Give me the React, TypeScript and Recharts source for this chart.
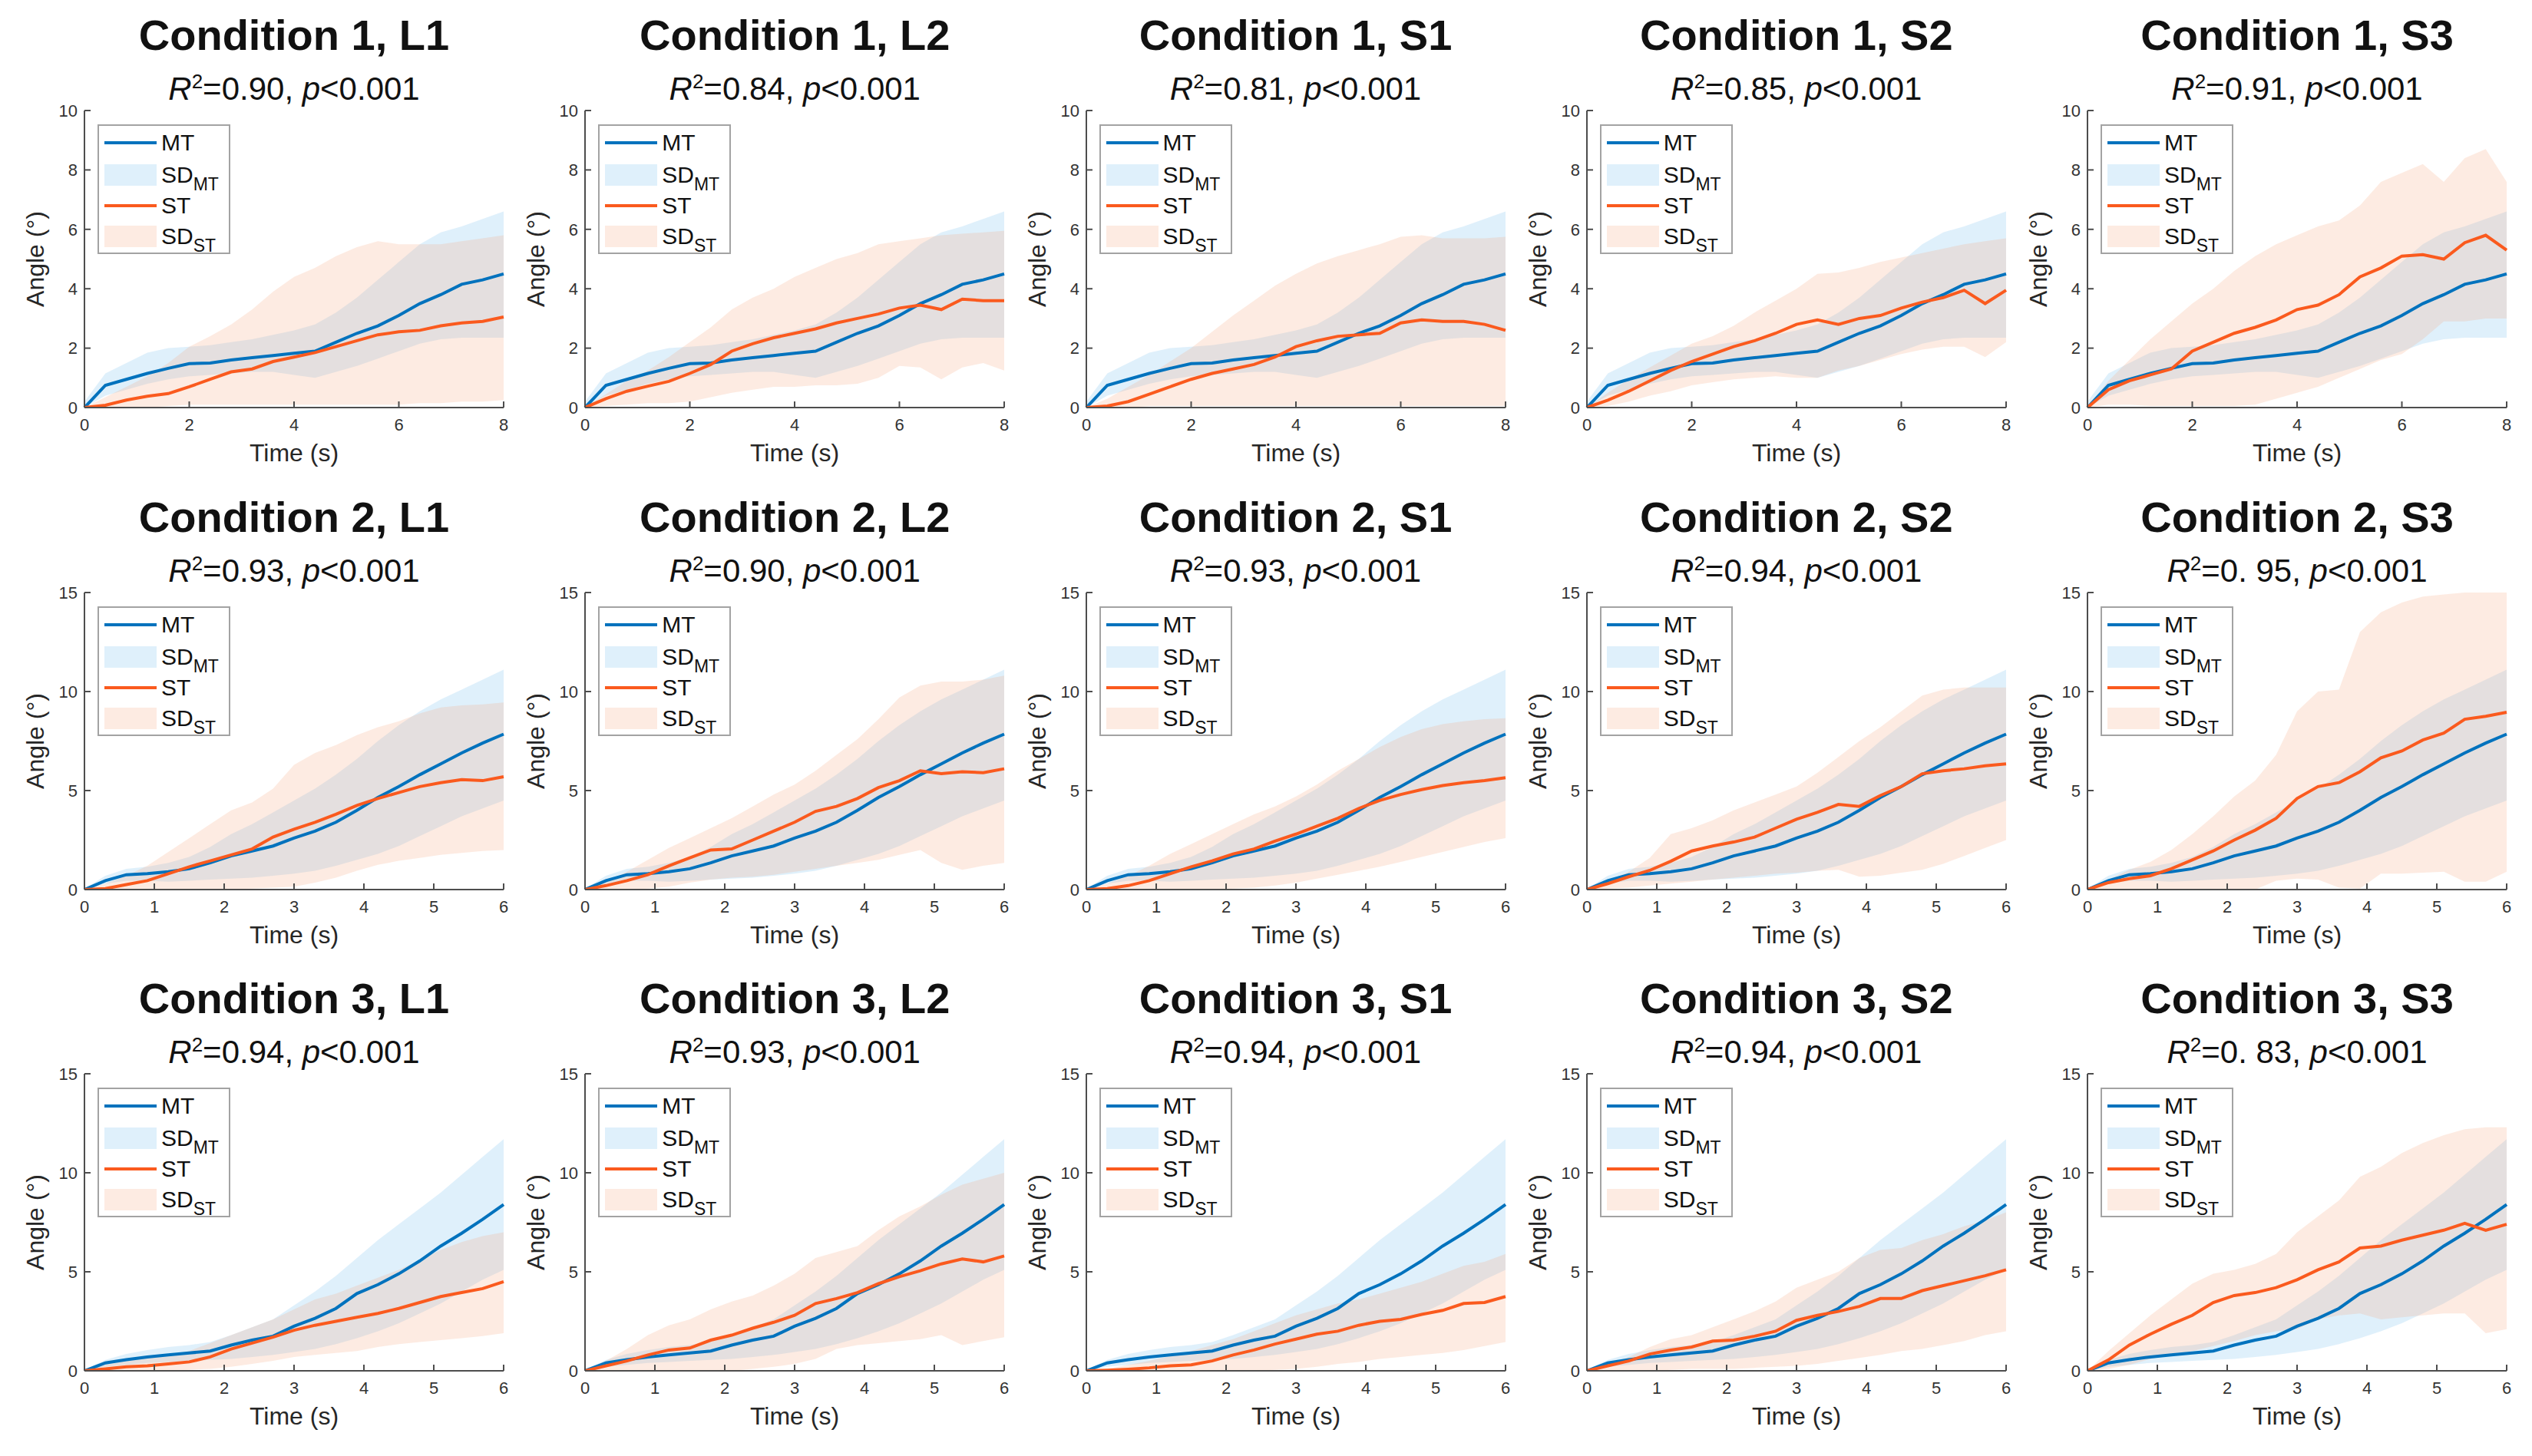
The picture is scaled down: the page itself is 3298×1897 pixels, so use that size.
import React from 'react'
import { ComposedChart, Area, Line, XAxis, YAxis, Label } from 'recharts'

// time grids (s)
const TIME_8 = [0, 0.4, 0.8, 1.2, 1.6, 2, 2.4, 2.8, 3.2, 3.6, 4, 4.4, 4.8, 5.2, 5.6, 6, 6.4, 6.8, 7.2, 7.6, 8]
const TIME_6 = [0, 0.3, 0.6, 0.9, 1.2, 1.5, 1.8, 2.1, 2.4, 2.7, 3, 3.3, 3.6, 3.9, 4.2, 4.5, 4.8, 5.1, 5.4, 5.7, 6]

const CONDITIONS = ['Condition 1', 'Condition 2', 'Condition 3']
const SEGMENTS = ['L1', 'L2', 'S1', 'S2', 'S3']
const R2_LABELS = [
  ['0.90', '0.84', '0.81', '0.85', '0.91'],
  ['0.93', '0.90', '0.93', '0.94', '0. 95'],
  ['0.94', '0.93', '0.94', '0.94', '0. 83'],
]
const X_TICKS_8 = [0, 2, 4, 6, 8]
const X_TICKS_6 = [0, 1, 2, 3, 4, 5, 6]
const Y_TICKS_10 = [0, 2, 4, 6, 8, 10]
const Y_TICKS_15 = [0, 5, 10, 15]

// MT reference (same in every panel of a row)
const MT_1 = [0, 0.75, 0.95, 1.15, 1.32, 1.48, 1.5, 1.6, 1.68, 1.75, 1.83, 1.9, 2.2, 2.5, 2.75, 3.1, 3.5, 3.8, 4.15, 4.3, 4.5]
const MT_1_LO = [0, 0.4, 0.6, 0.8, 0.95, 1.05, 1.1, 1.15, 1.2, 1.2, 1.1, 1.0, 1.2, 1.4, 1.65, 1.9, 2.15, 2.3, 2.35, 2.35, 2.35]
const MT_1_HI = [0.2, 1.15, 1.5, 1.85, 2.0, 2.05, 2.1, 2.2, 2.3, 2.45, 2.6, 2.8, 3.2, 3.7, 4.3, 4.9, 5.5, 5.9, 6.1, 6.35, 6.6]

const MT_2 = [0, 0.45, 0.75, 0.8, 0.9, 1.05, 1.35, 1.7, 1.95, 2.2, 2.6, 2.95, 3.4, 4.0, 4.65, 5.2, 5.8, 6.35, 6.9, 7.4, 7.85]
const MT_2_LO = [0, 0.3, 0.45, 0.45, 0.4, 0.45, 0.5, 0.55, 0.6, 0.7, 0.8, 0.95, 1.2, 1.5, 1.8, 2.2, 2.7, 3.2, 3.7, 4.1, 4.5]
const MT_2_HI = [0.05, 0.7, 1.05, 1.15, 1.35, 1.65, 2.15, 2.8, 3.3, 3.9, 4.5, 5.1, 5.8, 6.6, 7.5, 8.3, 9.0, 9.6, 10.1, 10.6, 11.1]

const MT_3 = [0, 0.4, 0.56, 0.7, 0.8, 0.9, 1.0, 1.3, 1.55, 1.75, 2.25, 2.65, 3.15, 3.9, 4.35, 4.9, 5.55, 6.3, 6.95, 7.65, 8.4]
const MT_3_LO = [0, 0.2, 0.3, 0.4, 0.45, 0.5, 0.55, 0.6, 0.7, 0.8, 0.95, 1.1, 1.35, 1.65, 2.0, 2.4, 2.9, 3.4, 4.0, 4.6, 5.1]
const MT_3_HI = [0.05, 0.55, 0.85, 1.05, 1.2, 1.3, 1.45, 1.8, 2.2, 2.6, 3.3, 4.0, 4.8, 5.7, 6.6, 7.4, 8.2, 9.0, 9.9, 10.8, 11.7]

// ST, condition 1
const ST_1_L1 = [0, 0.08, 0.25, 0.38, 0.47, 0.7, 0.95, 1.2, 1.3, 1.55, 1.7, 1.85, 2.05, 2.25, 2.45, 2.55, 2.6, 2.75, 2.85, 2.9, 3.05]
const ST_1_L1_LO = [0, 0, 0, 0, 0.05, 0.1, 0.1, 0.1, 0.1, 0.1, 0.1, 0.1, 0.1, 0.1, 0.1, 0.1, 0.15, 0.15, 0.2, 0.2, 0.25]
const ST_1_L1_HI = [0, 0.35, 0.7, 1.05, 1.5, 2.05, 2.4, 2.8, 3.3, 3.9, 4.4, 4.7, 5.1, 5.4, 5.6, 5.5, 5.5, 5.5, 5.6, 5.7, 5.8]

const ST_1_L2 = [0, 0.3, 0.55, 0.72, 0.88, 1.15, 1.45, 1.9, 2.15, 2.35, 2.5, 2.65, 2.85, 3.0, 3.15, 3.35, 3.45, 3.3, 3.65, 3.6, 3.6]
const ST_1_L2_LO = [0, 0.05, 0.1, 0.15, 0.15, 0.2, 0.35, 0.5, 0.6, 0.7, 0.7, 0.75, 0.75, 0.8, 1.0, 1.4, 1.35, 0.95, 1.35, 1.5, 1.25]
const ST_1_L2_HI = [0, 0.45, 0.9, 1.25, 1.7, 2.2, 2.7, 3.3, 3.7, 4.0, 4.4, 4.7, 5.0, 5.2, 5.5, 5.6, 5.7, 5.8, 5.85, 5.9, 5.95]

const ST_1_S1 = [0, 0.05, 0.2, 0.45, 0.7, 0.95, 1.15, 1.3, 1.45, 1.7, 2.05, 2.25, 2.4, 2.45, 2.5, 2.85, 2.95, 2.9, 2.9, 2.8, 2.6]
const ST_1_S1_LO = [0, 0, 0, 0.05, 0.05, 0.05, 0.05, 0.05, 0.05, 0.05, 0.05, 0.05, 0.05, 0.05, 0.05, 0.05, 0.05, 0.05, 0.05, 0.05, 0.05]
const ST_1_S1_HI = [0, 0.3, 0.7, 1.1, 1.55, 2.0, 2.55, 3.1, 3.6, 4.1, 4.5, 4.85, 5.1, 5.3, 5.5, 5.75, 5.8, 5.7, 5.7, 5.7, 5.75]

const ST_1_S2 = [0, 0.25, 0.55, 0.9, 1.25, 1.55, 1.8, 2.05, 2.25, 2.5, 2.8, 2.95, 2.8, 3.0, 3.1, 3.35, 3.55, 3.7, 3.95, 3.5, 3.95]
const ST_1_S2_LO = [0, 0.05, 0.2, 0.4, 0.55, 0.75, 0.85, 0.95, 1.0, 1.05, 1.0, 1.0, 1.25, 1.4, 1.6, 1.8, 1.95, 2.05, 2.05, 1.7, 2.2]
const ST_1_S2_HI = [0, 0.5, 0.95, 1.35, 1.75, 2.15, 2.4, 2.75, 3.2, 3.6, 4.0, 4.5, 4.55, 4.7, 4.9, 5.05, 5.2, 5.35, 5.5, 5.6, 5.7]

const ST_1_S3 = [0, 0.6, 0.9, 1.1, 1.3, 1.9, 2.2, 2.5, 2.7, 2.95, 3.3, 3.45, 3.8, 4.4, 4.7, 5.1, 5.15, 5.0, 5.55, 5.8, 5.3]
const ST_1_S3_LO = [0, 0.1, 0.1, 0.05, 0.05, 0.05, 0.05, 0.05, 0.1, 0.3, 0.5, 0.7, 1.0, 1.3, 1.6, 1.8, 2.3, 2.9, 2.9, 3.0, 3.0]
const ST_1_S3_HI = [0, 0.9, 1.6, 2.3, 2.9, 3.5, 4.0, 4.6, 5.1, 5.5, 5.8, 6.1, 6.3, 6.8, 7.6, 7.9, 8.2, 7.6, 8.4, 8.7, 7.6]

// ST, condition 2
const ST_2_L1 = [0, 0.05, 0.25, 0.45, 0.8, 1.15, 1.45, 1.75, 2.05, 2.65, 3.05, 3.4, 3.8, 4.25, 4.6, 4.9, 5.2, 5.4, 5.55, 5.5, 5.7]
const ST_2_L1_LO = [0, 0, 0, 0, 0, 0, 0, 0.02, 0.05, 0.1, 0.15, 0.35, 0.6, 0.95, 1.25, 1.45, 1.6, 1.75, 1.85, 1.95, 2.0]
const ST_2_L1_HI = [0, 0.3, 0.7, 1.2, 1.9, 2.6, 3.3, 4.0, 4.4, 5.1, 6.3, 6.9, 7.3, 7.8, 8.2, 8.5, 8.9, 9.2, 9.3, 9.35, 9.45]

const ST_2_L2 = [0, 0.2, 0.45, 0.75, 1.2, 1.6, 2.0, 2.05, 2.5, 2.95, 3.4, 3.95, 4.2, 4.6, 5.15, 5.5, 6.0, 5.85, 5.95, 5.9, 6.1]
const ST_2_L2_LO = [0, 0, 0, 0.05, 0.15, 0.35, 0.5, 0.6, 0.65, 0.75, 0.9, 1.05, 1.2, 1.35, 1.5, 1.75, 2.0, 1.35, 1.0, 1.2, 1.35]
const ST_2_L2_HI = [0, 0.4, 0.9, 1.5, 2.1, 2.6, 3.1, 3.6, 4.2, 4.8, 5.3, 6.0, 6.8, 7.6, 8.6, 9.7, 10.3, 10.5, 10.5, 10.6, 10.8]

const ST_2_S1 = [0, 0.05, 0.2, 0.45, 0.8, 1.15, 1.45, 1.8, 2.05, 2.45, 2.8, 3.2, 3.6, 4.1, 4.5, 4.8, 5.05, 5.25, 5.4, 5.5, 5.65]
const ST_2_S1_LO = [0, 0, 0, 0, 0, 0, 0, 0.05, 0.1, 0.2, 0.35, 0.55, 0.75, 0.95, 1.15, 1.4, 1.65, 1.9, 2.15, 2.4, 2.6]
const ST_2_S1_HI = [0, 0.3, 0.7, 1.2, 1.8, 2.3, 2.8, 3.3, 3.8, 4.2, 4.7, 5.3, 6.0, 6.6, 7.2, 7.7, 8.1, 8.35, 8.5, 8.6, 8.65]

const ST_2_S2 = [0, 0.3, 0.65, 0.97, 1.43, 1.95, 2.2, 2.4, 2.65, 3.1, 3.55, 3.9, 4.3, 4.2, 4.75, 5.2, 5.85, 6.0, 6.1, 6.25, 6.35]
const ST_2_S2_LO = [0, 0.05, 0.1, 0.2, 0.3, 0.4, 0.5, 0.6, 0.7, 0.8, 0.85, 0.95, 1.0, 0.65, 0.7, 0.85, 1.0, 1.3, 1.7, 2.1, 2.5]
const ST_2_S2_HI = [0, 0.4, 0.9, 1.6, 2.8, 3.1, 3.5, 4.0, 4.4, 4.8, 5.2, 5.9, 6.7, 7.5, 8.2, 9.0, 9.8, 10.1, 10.2, 10.2, 10.2]

const ST_2_S3 = [0, 0.35, 0.55, 0.7, 1.05, 1.5, 1.95, 2.5, 3.0, 3.6, 4.6, 5.2, 5.4, 5.95, 6.65, 7.0, 7.55, 7.9, 8.6, 8.75, 8.95]
const ST_2_S3_LO = [0, 0, 0, 0, 0, 0, 0, 0, 0, 0.45, 0.55, 0.5, 0.1, 0.05, 0.8, 0.8, 0.85, 0.9, 0.4, 0.4, 0.9]
const ST_2_S3_HI = [0, 0.5, 1.0, 1.4, 2.0, 2.8, 3.7, 4.7, 5.5, 6.8, 9.0, 10.0, 10.1, 13.0, 14.0, 14.5, 14.8, 14.9, 15, 15, 15]

// ST, condition 3
const ST_3_L1 = [0, 0.1, 0.2, 0.25, 0.35, 0.45, 0.7, 1.1, 1.4, 1.7, 2.05, 2.3, 2.5, 2.7, 2.9, 3.15, 3.45, 3.75, 3.95, 4.15, 4.5]
const ST_3_L1_LO = [0, 0, 0, 0, 0, 0.05, 0.1, 0.2, 0.35, 0.5, 0.7, 0.8, 0.9, 1.0, 1.2, 1.35, 1.45, 1.55, 1.65, 1.75, 1.9]
const ST_3_L1_HI = [0, 0.3, 0.5, 0.65, 0.8, 1.0, 1.4, 1.8, 2.2, 2.6, 3.1, 3.6, 3.9, 4.3, 4.7, 5.1, 5.6, 6.1, 6.5, 6.8, 7.0]

const ST_3_L2 = [0, 0.25, 0.5, 0.8, 1.05, 1.15, 1.55, 1.8, 2.15, 2.45, 2.8, 3.4, 3.65, 3.95, 4.4, 4.75, 5.05, 5.4, 5.65, 5.5, 5.8]
const ST_3_L2_LO = [0, 0, 0, 0, 0, 0, 0, 0, 0.1, 0.2, 0.35, 0.6, 1.1, 1.3, 1.4, 1.5, 1.6, 1.8, 1.3, 1.5, 1.7]
const ST_3_L2_HI = [0, 0.5, 1.1, 1.8, 2.3, 2.6, 3.1, 3.5, 3.8, 4.3, 4.9, 5.7, 6.0, 6.3, 7.1, 7.8, 8.3, 8.9, 9.4, 9.7, 10.0]

const ST_3_S1 = [0, 0.03, 0.08, 0.15, 0.25, 0.3, 0.5, 0.8, 1.05, 1.35, 1.6, 1.85, 2.0, 2.3, 2.5, 2.6, 2.85, 3.05, 3.4, 3.45, 3.75]
const ST_3_S1_LO = [0, 0, 0, 0, 0, 0, 0, 0, 0, 0.05, 0.1, 0.2, 0.35, 0.45, 0.6, 0.7, 0.8, 0.9, 1.05, 1.25, 1.45]
const ST_3_S1_HI = [0, 0.1, 0.3, 0.5, 0.75, 1.0, 1.3, 1.6, 2.0, 2.4, 2.8, 3.1, 3.4, 3.6, 3.9, 4.2, 4.5, 4.9, 5.3, 5.5, 5.9]

const ST_3_S2 = [0, 0.25, 0.5, 0.85, 1.05, 1.2, 1.5, 1.55, 1.75, 2.0, 2.55, 2.8, 3.0, 3.25, 3.65, 3.65, 4.05, 4.3, 4.55, 4.8, 5.1]
const ST_3_S2_LO = [0, 0, 0, 0, 0.05, 0.1, 0.1, 0.1, 0.15, 0.2, 0.25, 0.35, 0.5, 0.65, 0.8, 1.0, 1.1, 1.3, 1.5, 1.8, 2.0]
const ST_3_S2_HI = [0, 0.35, 0.7, 1.2, 1.6, 1.8, 2.2, 2.6, 3.0, 3.5, 4.2, 4.6, 5.0, 5.7, 6.1, 6.2, 6.6, 6.9, 7.3, 7.6, 8.0]

const ST_3_S3 = [0, 0.55, 1.3, 1.85, 2.35, 2.8, 3.45, 3.8, 3.95, 4.2, 4.6, 5.1, 5.5, 6.2, 6.3, 6.6, 6.85, 7.1, 7.45, 7.1, 7.4]
const ST_3_S3_LO = [0, 0.1, 0.3, 0.6, 0.8, 1.0, 1.25, 1.5, 1.8, 2.0, 2.1, 2.6, 2.8, 2.9, 2.6, 2.7, 2.8, 2.9, 2.9, 1.9, 2.1]
const ST_3_S3_HI = [0, 1.0, 1.9, 2.8, 3.6, 4.4, 4.9, 5.1, 5.4, 5.9, 7.0, 7.8, 8.6, 9.8, 10.3, 11.0, 11.5, 11.9, 12.2, 12.3, 12.3]

const ROW_SETUP = [
  { time: TIME_8, mt: MT_1, mtLo: MT_1_LO, mtHi: MT_1_HI, xMax: 8, xTicks: X_TICKS_8, yMax: 10, yTicks: Y_TICKS_10 },
  { time: TIME_6, mt: MT_2, mtLo: MT_2_LO, mtHi: MT_2_HI, xMax: 6, xTicks: X_TICKS_6, yMax: 15, yTicks: Y_TICKS_15 },
  { time: TIME_6, mt: MT_3, mtLo: MT_3_LO, mtHi: MT_3_HI, xMax: 6, xTicks: X_TICKS_6, yMax: 15, yTicks: Y_TICKS_15 },
]

const ST_SETS = [
  [
    [ST_1_L1, ST_1_L1_LO, ST_1_L1_HI],
    [ST_1_L2, ST_1_L2_LO, ST_1_L2_HI],
    [ST_1_S1, ST_1_S1_LO, ST_1_S1_HI],
    [ST_1_S2, ST_1_S2_LO, ST_1_S2_HI],
    [ST_1_S3, ST_1_S3_LO, ST_1_S3_HI],
  ],
  [
    [ST_2_L1, ST_2_L1_LO, ST_2_L1_HI],
    [ST_2_L2, ST_2_L2_LO, ST_2_L2_HI],
    [ST_2_S1, ST_2_S1_LO, ST_2_S1_HI],
    [ST_2_S2, ST_2_S2_LO, ST_2_S2_HI],
    [ST_2_S3, ST_2_S3_LO, ST_2_S3_HI],
  ],
  [
    [ST_3_L1, ST_3_L1_LO, ST_3_L1_HI],
    [ST_3_L2, ST_3_L2_LO, ST_3_L2_HI],
    [ST_3_S1, ST_3_S1_LO, ST_3_S1_HI],
    [ST_3_S2, ST_3_S2_LO, ST_3_S2_HI],
    [ST_3_S3, ST_3_S3_LO, ST_3_S3_HI],
  ],
]

const FONT = '"Liberation Sans", Arial, Helvetica, sans-serif'
const BLUE = '#0072BD'
const ORANGE = '#FA5A1E'
const BLUE_FILL = '#7FC3EE'
const ORANGE_FILL = '#F4A57A'
const AXIS = '#4d4d4d'

const PLOT_W = 546
const PLOT_H = 387
const Y_AXIS_W = 90
const X_AXIS_H = 88
const CHART_W = 652
const CHART_H = 20 + PLOT_H + X_AXIS_H

function LegendBox() {
  const rowStyle = (top: number): React.CSSProperties => ({
    position: 'absolute', left: 0, top: top - 20, height: 40, width: '100%',
  })
  const txt: React.CSSProperties = { position: 'absolute', left: 81, top: 3, fontSize: 30, lineHeight: '34px', color: '#111' }
  const sub: React.CSSProperties = { fontSize: 23, position: 'relative', top: 10 }
  return (
    <div style={{ position: 'absolute', left: Y_AXIS_W + 17, top: 140 + 18, width: 173, height: 169, border: '2px solid #a3a3a3', background: '#fff', boxSizing: 'border-box' }}>
      <div style={rowStyle(22)}>
        <div style={{ position: 'absolute', left: 7, top: 18, width: 68, height: 4, background: BLUE }} />
        <span style={txt}>MT</span>
      </div>
      <div style={rowStyle(64)}>
        <div style={{ position: 'absolute', left: 7, top: 6, width: 68, height: 28, background: BLUE_FILL, opacity: 0.25 }} />
        <span style={txt}>SD<span style={sub}>MT</span></span>
      </div>
      <div style={rowStyle(104)}>
        <div style={{ position: 'absolute', left: 7, top: 18, width: 68, height: 4, background: ORANGE }} />
        <span style={txt}>ST</span>
      </div>
      <div style={rowStyle(144)}>
        <div style={{ position: 'absolute', left: 7, top: 6, width: 68, height: 28, background: ORANGE_FILL, opacity: 0.22 }} />
        <span style={txt}>SD<span style={sub}>ST</span></span>
      </div>
    </div>
  )
}

function Panel({ row, col }: { row: number; col: number }) {
  const setup = ROW_SETUP[row]
  const [st, stLo, stHi] = ST_SETS[row][col]
  const data = setup.time.map((t, i) => ({
    t,
    mt: setup.mt[i],
    mtBand: [setup.mtLo[i], setup.mtHi[i]],
    st: st[i],
    stBand: [stLo[i], stHi[i]],
  }))
  const left = 20 + 652.25 * col
  const top = [4, 632, 1259][row]
  const tickStyle = { fill: '#333', fontSize: 22, fontFamily: FONT }

  return (
    <div style={{ position: 'absolute', left, top, width: CHART_W, height: 140 + PLOT_H + X_AXIS_H }}>
      <div style={{ position: 'absolute', left: Y_AXIS_W, width: PLOT_W, top: 14, textAlign: 'center', fontSize: 56, lineHeight: '56px', fontWeight: 'bold', color: '#111', whiteSpace: 'nowrap' }}>
        {CONDITIONS[row]}, {SEGMENTS[col]}
      </div>
      <div style={{ position: 'absolute', left: Y_AXIS_W, width: PLOT_W, top: 91, textAlign: 'center', fontSize: 42, lineHeight: '42px', color: '#111', whiteSpace: 'nowrap' }}>
        <i>R</i><span style={{ fontSize: 26, position: 'relative', top: -15 }}>2</span>={R2_LABELS[row][col]}, <i>p</i>&lt;0.001
      </div>
      <div style={{ position: 'absolute', left: 0, top: 120 }}>
        <ComposedChart width={CHART_W} height={CHART_H} data={data} margin={{ top: 20, right: 16, left: 0, bottom: 0 }}>
          <XAxis
            dataKey="t"
            type="number"
            domain={[0, setup.xMax]}
            ticks={setup.xTicks}
            interval={0}
            height={X_AXIS_H}
            tickSize={-8}
            tickMargin={22}
            axisLine={{ stroke: AXIS, strokeWidth: 2 }}
            tickLine={{ stroke: AXIS, strokeWidth: 2 }}
            tick={tickStyle}
          >
            <Label value="Time (s)" position="insideBottom" offset={X_AXIS_H - 70} fontSize={32} fill="#262626" fontFamily={FONT} />
          </XAxis>
          <YAxis
            type="number"
            domain={[0, setup.yMax]}
            ticks={setup.yTicks}
            interval={0}
            width={Y_AXIS_W}
            tickSize={-8}
            tickMargin={17}
            axisLine={{ stroke: AXIS, strokeWidth: 2 }}
            tickLine={{ stroke: AXIS, strokeWidth: 2 }}
            tick={tickStyle}
            allowDataOverflow
            label={{
              content: (p: any) => {
                const vb = p.viewBox || { x: 0, y: 20, width: Y_AXIS_W, height: PLOT_H }
                const cx = vb.x + 26
                const cy = vb.y + vb.height / 2
                return (
                  <text x={cx} y={cy} transform={`rotate(-90 ${cx} ${cy})`} textAnchor="middle" dominantBaseline="central" fontSize={32} fill="#262626" fontFamily={FONT}>
                    Angle (°)
                  </text>
                )
              },
            }}
          />
          <Area dataKey="mtBand" type="linear" stroke="none" fill={BLUE_FILL} fillOpacity={0.25} isAnimationActive={false} dot={false} activeDot={false} />
          <Area dataKey="stBand" type="linear" stroke="none" fill={ORANGE_FILL} fillOpacity={0.22} isAnimationActive={false} dot={false} activeDot={false} />
          <Line dataKey="mt" type="linear" stroke={BLUE} strokeWidth={4} dot={false} activeDot={false} isAnimationActive={false} />
          <Line dataKey="st" type="linear" stroke={ORANGE} strokeWidth={4} dot={false} activeDot={false} isAnimationActive={false} />
        </ComposedChart>
      </div>
      <LegendBox />
    </div>
  )
}

export default function App() {
  return (
    <div style={{ position: 'absolute', left: 0, top: 0, width: 3298, height: 1897, background: '#fff', overflow: 'hidden', fontFamily: FONT }}>
      {[0, 1, 2].map((r) => [0, 1, 2, 3, 4].map((c) => <Panel key={`${r}-${c}`} row={r} col={c} />))}
    </div>
  )
}
